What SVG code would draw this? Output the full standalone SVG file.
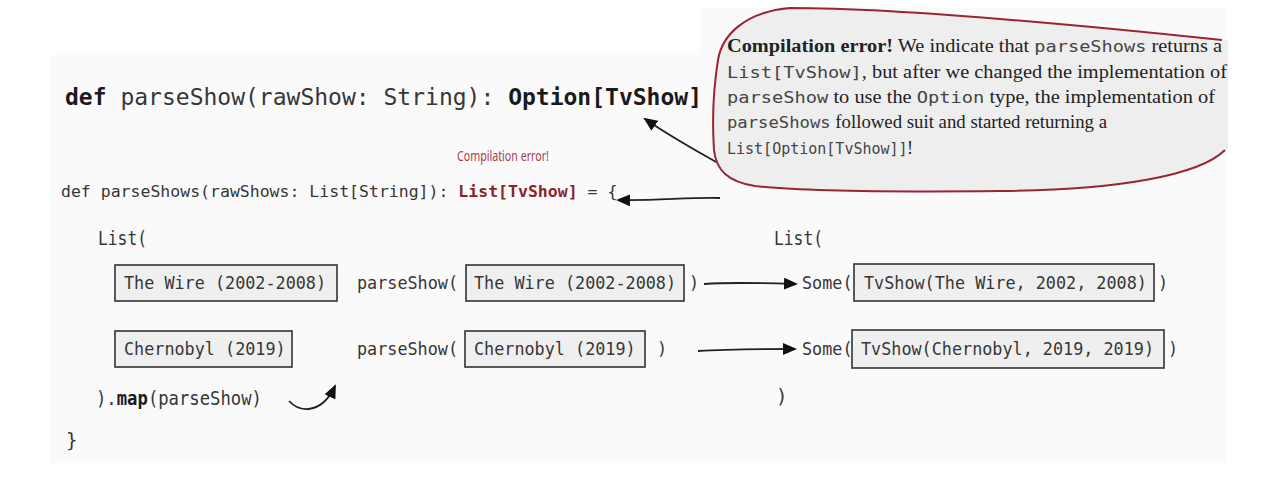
<svg xmlns="http://www.w3.org/2000/svg" width="1275" height="479" viewBox="0 0 1275 479">
<defs>
<style>
.code{font-family:"DejaVu Sans Mono","Liberation Mono",monospace;fill:#363636}
.big{font-size:23px}
.med{font-size:19px}
.sm{font-size:16.8px}
.l2{font-size:16.5px}
.b{font-weight:bold;fill:#1a1a1a}
.red{font-weight:bold;fill:#8e1f2c}
.box{fill:#efefef;stroke:#333;stroke-width:1.6}
.serif{font-family:"Liberation Serif","Times New Roman",serif;font-size:18px;fill:#222}
.mono{font-family:"DejaVu Sans Mono","Liberation Mono",monospace;font-size:16.5px;fill:#444}
.conn{fill:none;stroke:#222;stroke-width:1.8}
</style>
<marker id="ah" viewBox="0 0 14 12" refX="12" refY="6" markerWidth="14" markerHeight="12" markerUnits="userSpaceOnUse" orient="auto">
<path d="M0,0 L14,6 L0,12 Z" fill="#111"/>
</marker>
</defs>
<rect width="1275" height="479" fill="#ffffff"/>
<path d="M50,55 H700 V8 H1227 V463 H50 Z" fill="#fafafa"/>

<g id="callout">
<path d="M718,60 C722,35 745,12 790,8 C900,8 1080,25 1222,40 L1228,40 L1228,150 L1225,150 C1200,175 1120,190 1000,191 C900,192 800,191 755,186 C728,182 716,170 714,150 C712,120 714,85 718,60 Z" fill="#eeeeee"/>
<path d="M1222,40 C1080,25 900,8 790,8 C745,12 722,35 718,60 C714,85 712,120 714,150 C716,170 728,182 755,186 C800,191 900,192 1000,191 C1120,190 1200,175 1225,150" fill="none" stroke="#9b2335" stroke-width="2"/>
<text class="serif" x="727" y="52" textLength="495" lengthAdjust="spacingAndGlyphs"><tspan font-weight="bold">Compilation error!</tspan> We indicate that <tspan class="mono">parseShows</tspan> returns a</text>
<text class="serif" x="727" y="78" textLength="500" lengthAdjust="spacingAndGlyphs"><tspan class="mono">List[TvShow]</tspan>, but after we changed the implementation of</text>
<text class="serif" x="727" y="103" textLength="488" lengthAdjust="spacingAndGlyphs"><tspan class="mono">parseShow</tspan> to use the <tspan class="mono">Option</tspan> type, the implementation of</text>
<text class="serif" x="727" y="128" textLength="380" lengthAdjust="spacingAndGlyphs"><tspan class="mono">parseShows</tspan> followed suit and started returning a</text>
<text class="mono" x="727" y="154" style="font-size:15px">List[Option[TvShow]]</text>
<text class="serif" x="907" y="154">!</text>
</g>

<g id="line1">
<text class="code big" x="65" y="105"><tspan class="b">def</tspan> parseShow(rawShow: String): <tspan class="b">Option[TvShow]</tspan></text>
</g>

<g id="error-label">
<text x="457" y="161" font-family="Noto Sans, sans-serif" font-size="15" fill="#a5404c" textLength="92" lengthAdjust="spacingAndGlyphs">Compilation error!</text>
</g>

<g id="line2">
<text class="code l2" x="61" y="197">def parseShows(rawShows: List[String]): <tspan class="red">List[TvShow]</tspan> = {</text>
</g>

<g id="list-open">
<text class="code med" x="98" y="245" textLength="49" lengthAdjust="spacingAndGlyphs">List(</text>
</g>

<g id="raw1">
<rect class="box" x="115" y="265" width="222" height="36"/>
<text class="code sm" x="124" y="289">The Wire (2002-2008)</text>
</g>
<g id="call1">
<text class="code sm" x="357" y="289">parseShow(</text>
<rect class="box" x="466" y="265" width="218" height="36"/>
<text class="code sm" x="474" y="289">The Wire (2002-2008)</text>
<text class="code sm" x="689" y="289">)</text>
</g>
<g id="result1">
<text class="code sm" x="802" y="289">Some(</text>
<rect class="box" x="854" y="264" width="300" height="37"/>
<text class="code sm" x="864" y="289">TvShow(The Wire, 2002, 2008)</text>
<text class="code sm" x="1158" y="289">)</text>
</g>

<g id="raw2">
<rect class="box" x="115" y="331" width="177" height="36"/>
<text class="code sm" x="124" y="355">Chernobyl (2019)</text>
</g>
<g id="call2">
<text class="code sm" x="357" y="355">parseShow(</text>
<rect class="box" x="465" y="331" width="180" height="36"/>
<text class="code sm" x="474" y="355">Chernobyl (2019)</text>
<text class="code sm" x="657" y="355">)</text>
</g>
<g id="result2">
<text class="code sm" x="802" y="355">Some(</text>
<rect class="box" x="852" y="330" width="312" height="38"/>
<text class="code sm" x="861" y="355">TvShow(Chernobyl, 2019, 2019)</text>
<text class="code sm" x="1168" y="355">)</text>
</g>

<g id="list-right">
<text class="code med" x="774" y="245" textLength="49" lengthAdjust="spacingAndGlyphs">List(</text>
<text class="code med" x="776" y="403">)</text>
</g>

<g id="map">
<text class="code med" x="96" y="405" textLength="166" lengthAdjust="spacingAndGlyphs">).<tspan class="b">map</tspan>(parseShow)</text>
<text class="code med" x="66" y="447">}</text>
</g>

<g id="connectors">
<path class="conn" d="M716,162 C695,150 668,135 645,119" marker-end="url(#ah)"/>
<path class="conn" d="M720,198 C690,197 655,201 618,200" marker-end="url(#ah)"/>
<path class="conn" d="M704,284 C732,282 762,283 796,284" marker-end="url(#ah)"/>
<path class="conn" d="M698,351 C730,349 760,349 795,349" marker-end="url(#ah)"/>
<path class="conn" d="M289,401 C300,413 322,414 335,386" marker-end="url(#ah)"/>
</g>
</svg>
